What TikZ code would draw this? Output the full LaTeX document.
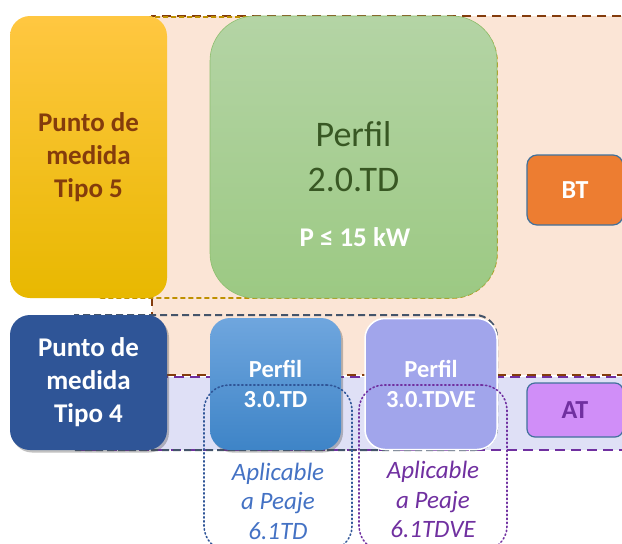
\documentclass[tikz,border=0pt]{standalone}
\usepackage{fontspec}
\setmainfont{Carlito}
\usetikzlibrary{shadows}
\definecolor{peach}{HTML}{FBE5D6}
\definecolor{brownd}{HTML}{843C0C}
\definecolor{goldd}{HTML}{BF9000}
\definecolor{grayd}{HTML}{44546A}
\definecolor{lav}{HTML}{DFE0F6}
\definecolor{purp}{HTML}{7030A0}
\definecolor{yelA}{HTML}{FFC741}
\definecolor{yelB}{HTML}{E8B800}
\definecolor{grnA}{HTML}{B4D4A5}
\definecolor{grnB}{HTML}{9CC983}
\definecolor{grnT}{HTML}{385723}
\definecolor{grnL}{HTML}{8DBE6E}
\definecolor{orng}{HTML}{ED7D31}
\definecolor{bord}{HTML}{41719C}
\definecolor{navy}{HTML}{2F5597}
\definecolor{bluA}{HTML}{6FA6DE}
\definecolor{bluB}{HTML}{3E84C7}
\definecolor{viol}{HTML}{A1A5EB}
\definecolor{atf}{HTML}{D08EF8}
\definecolor{bluT}{HTML}{4472C4}
\tikzset{
  box/.style={rounded corners=20pt, minimum width=#1, inner sep=0pt, align=center},
  bigtxt/.style={font=\fontsize{27}{33}\selectfont\bfseries},
  midtxt/.style={font=\fontsize{24.5}{30}\selectfont\bfseries},
  ittxt/.style={font=\fontsize{25}{29.5}\selectfont\itshape, align=center},
  shad/.style={drop shadow={shadow xshift=2pt, shadow yshift=-2.5pt, opacity=0.35, fill=black!70}},
  dotbox/.style={rounded corners=25pt, minimum width=148pt, minimum height=166pt, line width=1.6pt, dash pattern=on 1.4pt off 2.6pt, line cap=round},
}
\begin{document}
\begin{tikzpicture}[x=1pt,y=-1pt]
\useasboundingbox (0,0) rectangle (622,544);
\clip (0,0) rectangle (622,544);
% BT region
\node[fill=peach, draw=brownd, line width=2.2pt, dash pattern=on 9pt off 6pt, minimum width=490pt, minimum height=359pt, inner sep=0pt] (btreg) at (397,195.5) {};
% AT region
\node[fill=lav, draw=purp, line width=2.4pt, dash pattern=on 10pt off 6pt, minimum width=570pt, minimum height=73pt, inner sep=0pt] (atreg) at (360,413.5) {};
% golden dashed group
\draw[goldd, line width=1.6pt, dash pattern=on 5pt off 3pt] (100,298) -- (100,17) [rounded corners=45pt] -- (497,17) -- (497,298) [sharp corners] -- cycle;
% gray dashed group
\draw[grayd, line width=2pt, dash pattern=on 7pt off 4pt] (75,450) -- (75,315) [rounded corners=22pt] -- (497,315) -- (497,450) [sharp corners] -- cycle;
% Tipo 5
\node[box=157pt, minimum height=282pt, top color=yelA, bottom color=yelB, text=brownd, bigtxt] (tipo5) at (88.5,157) {Punto de\\medida\\Tipo 5};
% Perfil 2.0.TD
\node[box=287pt, rounded corners=45pt, minimum height=282pt, top color=grnA, bottom color=grnB, draw=grnL, line width=0.6pt] (p20) at (353.5,157) {};
\node[text=grnT, font=\fontsize{36}{45}\selectfont, align=center] (p20t) at (p20.center) [yshift=0.5pt] {Perfil\\2.0.TD};
\node[text=white, font=\fontsize{27}{30}\selectfont\bfseries] (p20p) at (355,237) {P ≤ 15 kW};
% BT
\node[box=96pt, rounded corners=10pt, minimum height=70pt, fill=orng, draw=bord, line width=1.2pt, text=white, font=\fontsize{26}{30}\selectfont\bfseries] (bt) at (575,190) {BT};
% Tipo 4
\node[box=157pt, minimum height=135pt, fill=navy, text=white, bigtxt, shad] (tipo4) at (88.5,382.5) {Punto de\\medida\\Tipo 4};
% Perfil 3.0.TD
\node[box=131pt, minimum height=132pt, top color=bluA, bottom color=bluB, text=white, midtxt, shad] (p30) at (275.5,384) {Perfil\\3.0.TD};
% Perfil 3.0.TDVE
\node[box=132pt, minimum height=131pt, fill=viol, draw=white, line width=1.5pt, text=white, midtxt] (p30ve) at (431,384) {Perfil\\3.0.TDVE};
% AT
\node[box=96pt, rounded corners=8pt, minimum height=54pt, fill=atf, draw=bord, line width=1.2pt, text=purp, font=\fontsize{26}{30}\selectfont\bfseries] (at) at (575,410) {AT};
% dotted boxes
\node[dotbox, draw=navy] (d1) at (278,468) {};
\node[dotbox, draw=purp] (d2) at (433,468) {};
\node[ittxt, text=bluT] (d1t) at (278,501) {Aplicable\\a Peaje\\6.1TD};
\node[ittxt, text=purp] (d2t) at (433,499.5) {Aplicable\\a Peaje\\6.1TDVE};
\end{tikzpicture}
\end{document}
